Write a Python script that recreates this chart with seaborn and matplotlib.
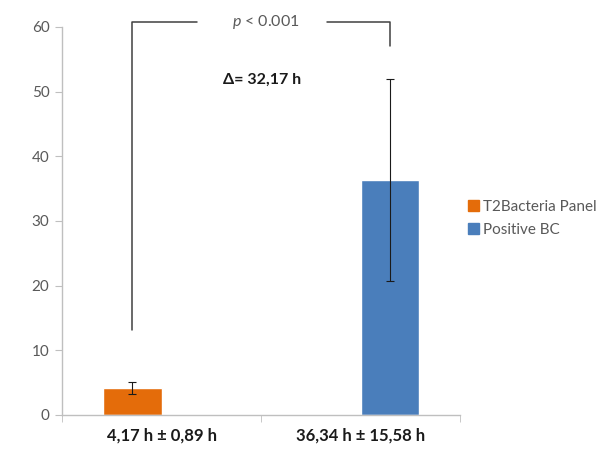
import pandas as pd
import seaborn as sns
import matplotlib.pyplot as plt

# Data
categories = ["4,17 h \u00b1 0,89 h", "36,34 h \u00b1 15,58 h"]
series = ["T2Bacteria Panel", "Positive BC"]
means = [4.17, 36.34]
sds = [0.89, 15.58]
colors = ["#E46C0A", "#4A7EBB"]
p_text = "$p$ < 0.001"
delta_text = "\u0394= 32,17 h"

df = pd.DataFrame({"category": categories, "series": series, "hours": means, "sd": sds})

sns.set_style("white")
plt.rcParams['font.family'] = ['Lato', 'DejaVu Sans']
plt.rcParams['mathtext.fontset'] = 'custom'
plt.rcParams['mathtext.it'] = 'Lato:italic'
plt.rcParams['mathtext.rm'] = 'Lato'

fig = plt.figure(figsize=(6.08, 4.5), dpi=100)
ax = fig.add_axes([0.102, 0.078, 0.655, 0.862])

sns.barplot(data=df, x="category", y="hours", hue="series", order=categories,
            hue_order=series, palette=colors, width=0.59, dodge=True,
            saturation=1, errorbar=None, ax=ax, legend=True)

# Error bars (mean +- SD) placed on the bar centres seaborn drew
centers = []
for cont, sd in zip(ax.containers, sds):
    for bar in cont:
        if bar.get_height() > 0:
            cx = bar.get_x() + bar.get_width() / 2
            centers.append(cx)
            ax.errorbar(cx, bar.get_height(), yerr=sd, fmt='none', ecolor='#1a1a1a',
                        elinewidth=0.8, capsize=3, capthick=0.8)

ax.set_ylim(0, 60)
ax.set_xlim(-0.5, 1.5)
ax.set_yticks(range(0, 61, 10))
ax.set_xlabel("")
ax.set_ylabel("")

# Axis styling like the spreadsheet chart
for s in ["top", "right"]:
    ax.spines[s].set_visible(False)
for s in ["left", "bottom"]:
    ax.spines[s].set_color("#BFBFBF")
    ax.spines[s].set_linewidth(1)
ax.tick_params(axis='y', which='major', direction='out', length=5, color="#BFBFBF",
               labelsize=11, labelcolor="#595959", left=True, pad=4)
ax.tick_params(axis='x', which='major', length=0, labelsize=12, labelcolor="#1a1a1a", pad=9)
for lbl in ax.get_xticklabels():
    lbl.set_fontweight('bold')
ax.set_xticks([-0.5, 0.5, 1.5], minor=True)
ax.tick_params(axis='x', which='minor', direction='out', length=5, color="#BFBFBF", bottom=True)

# Significance bracket
x0, x1 = centers[0], centers[1]
ytop = 60.8
line_kw = dict(color="#404040", lw=1.1, clip_on=False)
ax.plot([x0, x0, 0.18], [13.1, ytop, ytop], **line_kw)
ax.plot([0.83, x1, x1], [ytop, ytop, 57.0], **line_kw)
ax.text(0.525, ytop, p_text, ha='center', va='center', fontsize=11.5, color="#595959")
ax.text(0.505, 51.8, delta_text, ha='center', va='center', fontsize=11.5,
        fontweight='bold', color="#1a1a1a")

# Legend outside on the right (pulled in a little so the long label fits)
ax.legend_.remove()
handles = [plt.Rectangle((0, 0), 1, 1, color=c) for c in colors]
leg = fig.legend(handles, series, loc='upper left', bbox_to_anchor=(0.77, 0.556),
                 frameon=False, fontsize=11, handlelength=0.7, handleheight=0.7,
                 handletextpad=0.3, labelspacing=0.6, borderpad=0, borderaxespad=0)
for t in leg.get_texts():
    t.set_color("#595959")

fig.savefig("out.png", dpi=100)
